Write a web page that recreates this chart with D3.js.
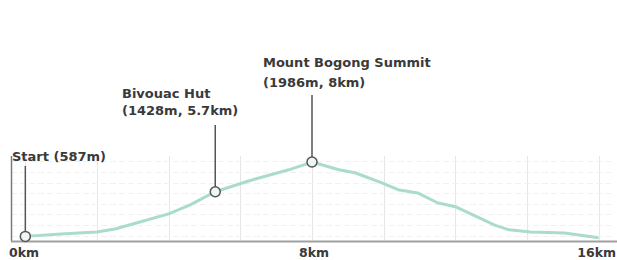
<!DOCTYPE html>
<html>
<head>
<meta charset="utf-8">
<script src="https://cdn.jsdelivr.net/npm/d3@7"></script>
<style>
  body { margin: 0; background: #fff; }
  text { font-family: "DejaVu Sans", Verdana, sans-serif; fill: #3a3a3a; }
</style>
</head>
<body>
<div id="chart"></div>
<script>
// Elevation profile (km, metres)
var distKm = [0, 1, 2, 2.5, 3, 4, 4.6, 5.3, 6.25, 7.35, 8, 8.75, 9.2, 9.95, 10.4, 10.95, 11.5, 12, 13.1, 13.5, 14.1, 15.05, 15.8, 16];
var elevM  = [587, 630, 670, 725, 820, 1010, 1180, 1428, 1635, 1840, 1986, 1840, 1785, 1595, 1465, 1405, 1220, 1145, 800, 710, 670, 650, 578, 560];

// Annotated points
var noteKm = [0, 5.3, 8];
var noteElev = [587, 1428, 1986];
var noteText = [["Start (587m)"], ["Bivouac Hut", "(1428m, 5.7km)"], ["Mount Bogong Summit", "(1986m, 8km)"]];

// Axis ticks
var xTicks = [0, 8, 16];
var xTickLabels = ["0km", "8km", "16km"];
var xGrid = [0, 2, 4, 6, 8, 10, 12, 14, 16];
var yGrid = [600, 800, 1000, 1200, 1400, 1600, 1800, 2000];

var width = 617, height = 260;
var plot = { left: 11, right: 613, top: 156, bottom: 241 };

var svg = d3.select("#chart").append("svg")
  .attr("width", width)
  .attr("height", height);

var x = d3.scaleLinear().domain([-0.4, 16.4]).range([plot.left, plot.right]);
var y = d3.scaleLinear().domain([500, 2100]).range([plot.bottom, plot.top]);

// ==============================
// Grid
// ==============================
svg.append("g").selectAll("line")
  .data(xGrid).enter().append("line")
  .attr("x1", d => Math.round(x(d)) + 0.5).attr("x2", d => Math.round(x(d)) + 0.5)
  .attr("y1", plot.top).attr("y2", plot.bottom)
  .attr("stroke", "#e6e6e6").attr("stroke-width", 1);

svg.append("g").selectAll("line")
  .data(yGrid).enter().append("line")
  .attr("x1", plot.left).attr("x2", plot.right)
  .attr("y1", d => Math.round(y(d)) + 0.5).attr("y2", d => Math.round(y(d)) + 0.5)
  .attr("stroke", "#f3f0f0").attr("stroke-width", 1)
  .attr("stroke-dasharray", "6,3");

// ==============================
// Profile line
// ==============================
var profile = distKm.map((d, i) => [d, elevM[i]]);
svg.append("path")
  .datum(profile)
  .attr("fill", "none")
  .attr("stroke", "#abdcc9")
  .attr("stroke-width", 3)
  .attr("stroke-linejoin", "round")
  .attr("d", d3.line().x(d => x(d[0])).y(d => y(d[1])));

// ==============================
// Axes
// ==============================
svg.append("line")
  .attr("x1", plot.left + 0.5).attr("x2", plot.left + 0.5)
  .attr("y1", plot.top).attr("y2", plot.bottom)
  .attr("stroke", "#7a7a7a").attr("stroke-width", 1.5);

svg.append("line")
  .attr("x1", plot.left).attr("x2", width)
  .attr("y1", plot.bottom + 0.5).attr("y2", plot.bottom + 0.5)
  .attr("stroke", "#a0a0a0").attr("stroke-width", 2);

svg.append("g").selectAll("text")
  .data(xTicks).enter().append("text")
  .attr("x", (d, i) => i === 0 ? plot.left - 2 : i === xTicks.length - 1 ? width - 1 : x(d) + 2)
  .attr("y", 257)
  .attr("text-anchor", (d, i) => i === 0 ? "start" : i === xTicks.length - 1 ? "end" : "middle")
  .attr("font-size", "12.5px")
  .attr("font-weight", "bold")
  .attr("fill", "#555")
  .text((d, i) => xTickLabels[i]);

// ==============================
// Annotations
// ==============================
// label position, line spacing and connector top, per note
var noteLayout = [
  { tx: 12, ty: 161, dy: 0, lineTop: 166 },
  { tx: 122, ty: 98, dy: 17, lineTop: 125 },
  { tx: 263, ty: 67, dy: 20, lineTop: 95 }
];

noteKm.forEach(function(km, i) {
  var px = x(km), py = y(noteElev[i]);
  var L = noteLayout[i];

  svg.append("line")
    .attr("x1", px).attr("x2", px)
    .attr("y1", L.lineTop).attr("y2", py - 5)
    .attr("stroke", "#555").attr("stroke-width", 1.5);

  svg.append("circle")
    .attr("cx", px).attr("cy", py).attr("r", 5)
    .attr("fill", "#eef7f3").attr("stroke", "#555").attr("stroke-width", 1.5);

  var t = svg.append("text")
    .attr("x", L.tx).attr("y", L.ty)
    .attr("font-size", "13px")
    .attr("font-weight", "bold")
    .attr("fill", "#4a4a4a");
  noteText[i].forEach(function(s, j) {
    t.append("tspan").attr("x", L.tx).attr("y", L.ty + j * L.dy).text(s);
  });
});
</script>
</body>
</html>
